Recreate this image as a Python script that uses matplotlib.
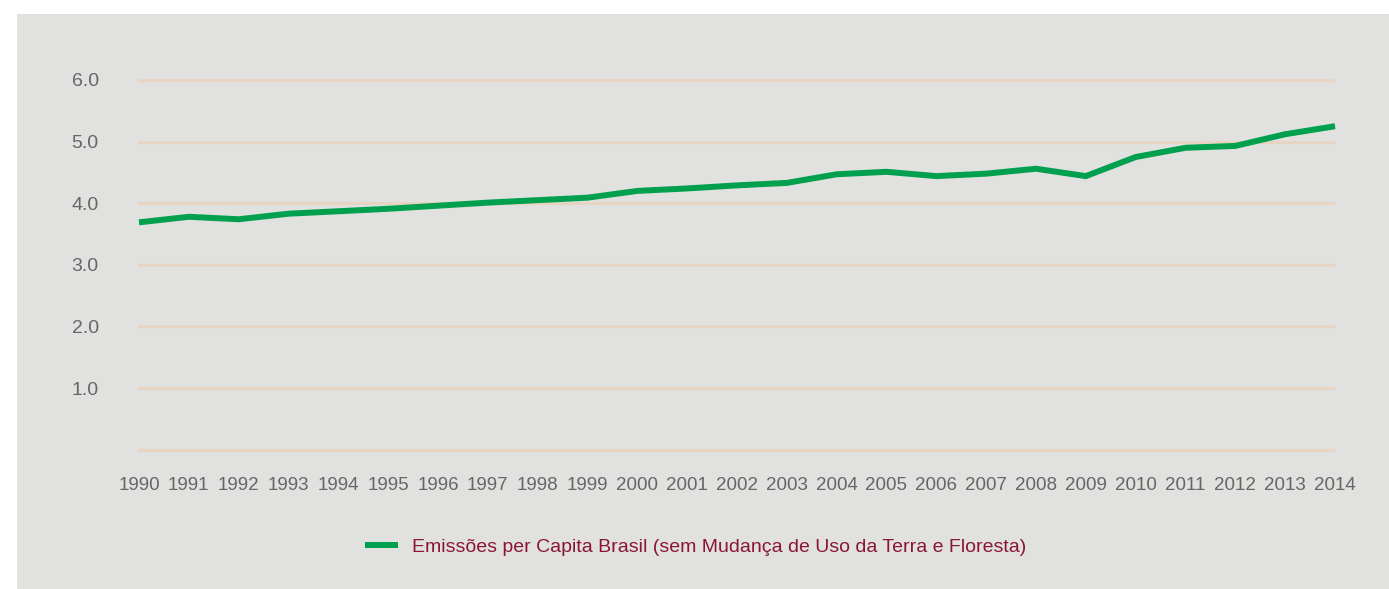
import numpy as np
import matplotlib
matplotlib.use('Agg')
import matplotlib.pyplot as plt
from matplotlib.patches import Rectangle

plt.rcParams['font.family'] = ['Liberation Sans', 'DejaVu Sans']

# emissions per capita, Brazil (without land use change and forestry)
years = [1990, 1991, 1992, 1993, 1994, 1995, 1996, 1997, 1998, 1999, 2000, 2001,
         2002, 2003, 2004, 2005, 2006, 2007, 2008, 2009, 2010, 2011, 2012, 2013, 2014]
per_capita = [3.69, 3.78, 3.74, 3.83, 3.87, 3.91, 3.96, 4.01, 4.05, 4.09, 4.20, 4.24,
              4.29, 4.33, 4.47, 4.51, 4.44, 4.48, 4.56, 4.44, 4.75, 4.90, 4.93, 5.12, 5.25]
y_ticks = [1.0, 2.0, 3.0, 4.0, 5.0, 6.0]
grid_levels = [0.0, 1.0, 2.0, 3.0, 4.0, 5.0, 6.0]
series_label = 'Emissões per Capita Brasil (sem Mudança de Uso da Terra e Floresta)'

W, H = 1389, 589
fig = plt.figure(figsize=(W / 100, H / 100), dpi=100)
fig.patch.set_facecolor('white')
fig.patches.append(Rectangle((17 / W, 0), 1 - 17 / W, 1 - 14 / H,
                             transform=fig.transFigure, facecolor='#e1e1df',
                             edgecolor='none', zorder=-10))

ax = fig.add_axes([139 / W, 1 - 449.7 / H, (1335 - 139) / W, (449.7 - 80) / H])
ax.set_facecolor('none')
ax.set_xlim(1990, 2014)
ax.set_ylim(0, 6)

for lvl in grid_levels:
    ax.axhline(lvl, color='#e8d4c2', lw=2.2, zorder=1, xmax=0.998, clip_on=False)

ax.plot(years, per_capita, color='#00a04f', lw=4.3, solid_joinstyle='miter',
        solid_capstyle='butt', clip_on=False, zorder=3, label=series_label)

for s in ax.spines.values():
    s.set_visible(False)
ax.set_xticks(years)
ax.set_xticklabels([str(y) for y in years])
ax.set_yticks(y_ticks)
ax.set_yticklabels(['%.1f' % v for v in y_ticks])
ax.tick_params(axis='both', length=0, labelsize=14, labelcolor='#666666')
ax.tick_params(axis='x', labelsize=13.5, pad=20)
ax.tick_params(axis='y', pad=29)

leg = fig.legend(loc='center', bbox_to_anchor=(695.5 / W, 1 - 547 / H), frameon=False,
                 fontsize=14, handlelength=1.7, handletextpad=0.7, labelcolor='#8a1538')

fig.savefig('out.png', dpi=100, facecolor=fig.get_facecolor())
